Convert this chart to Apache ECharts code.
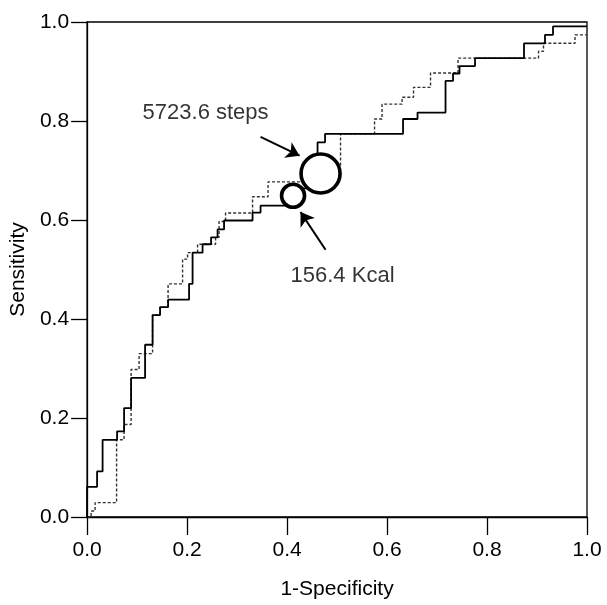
<!DOCTYPE html>
<html>
<head>
<meta charset="utf-8">
<script src="https://cdn.jsdelivr.net/npm/echarts@6/dist/echarts.min.js"></script>
<style>html,body{margin:0;padding:0;background:#fff}#c{width:607px;height:605px}</style>
</head>
<body>
<div id="c"></div>
<script>
// ROC curve A (solid) – step points (x = 1-Specificity, y = Sensitivity)
const fprA = [0, 0, 0.020, 0.031, 0.060, 0.074, 0.088, 0.116, 0.131, 0.146, 0.162, 0.204, 0.211, 0.231, 0.248, 0.261, 0.274, 0.331, 0.347, 0.412, 0.461, 0.476, 0.632, 0.661, 0.717, 0.732, 0.745, 0.776, 0.874, 0.916, 0.932, 1.0];
const tprA = [0, 0.061, 0.092, 0.156, 0.173, 0.220, 0.281, 0.348, 0.408, 0.424, 0.439, 0.471, 0.534, 0.551, 0.565, 0.581, 0.599, 0.615, 0.629, 0.664, 0.757, 0.774, 0.804, 0.817, 0.881, 0.896, 0.911, 0.927, 0.957, 0.974, 0.991, 0.991];
// ROC curve B (dotted)
const fprB = [0, 0.008, 0.016, 0.059, 0.074, 0.088, 0.104, 0.131, 0.146, 0.162, 0.191, 0.201, 0.221, 0.257, 0.264, 0.277, 0.331, 0.362, 0.460, 0.507, 0.575, 0.590, 0.630, 0.653, 0.687, 0.742, 0.903, 0.913, 0.976, 1.0];
const tprB = [0, 0.012, 0.029, 0.156, 0.187, 0.298, 0.330, 0.408, 0.424, 0.471, 0.521, 0.534, 0.551, 0.565, 0.597, 0.614, 0.647, 0.677, 0.710, 0.774, 0.804, 0.834, 0.848, 0.868, 0.897, 0.927, 0.941, 0.957, 0.974, 0.974];
// cut-off points
const cutLabels = ['5723.6 steps', '156.4 Kcal'];
const cutX = [0.467, 0.412];
const cutY = [0.694, 0.649];
const cutSize = [39, 23];
// annotation text anchors and arrows (data coordinates)
const noteX = [0.111, 0.407];
const noteY = [0.816, 0.488];
const arrowFromX = [0.347, 0.477];
const arrowFromY = [0.768, 0.540];
const arrowToX = [0.425, 0.427];
const arrowToY = [0.730, 0.616];
const ticks = [0, 0.2, 0.4, 0.6, 0.8, 1.0];

const FONT = '"Liberation Sans", Arial, sans-serif';
const chart = echarts.init(document.getElementById('c'), null, {renderer: 'canvas'});
const zip = (a, b) => a.map((v, i) => [v, b[i]]);

chart.setOption({
  animation: false,
  backgroundColor: '#fff',
  grid: {left: 86, top: 22, width: 501, height: 500, show: true, borderColor: '#000', borderWidth: 1.3, backgroundColor: 'transparent'},
  xAxis: {
    type: 'value', min: 0, max: 1, interval: 0.2,
    name: '1-Specificity', nameLocation: 'middle', nameGap: 62,
    nameTextStyle: {fontFamily: FONT, fontSize: 21, color: '#000'},
    axisLine: {show: true, lineStyle: {color: '#000', width: 1.3}},
    axisTick: {show: true, length: 18, lineStyle: {color: '#000', width: 1.3}},
    axisLabel: {margin: 23, fontFamily: FONT, fontSize: 21, color: '#000', formatter: v => v.toFixed(1)},
    splitLine: {show: false}
  },
  yAxis: {
    type: 'value', min: 0, max: 1, interval: 0.2,
    name: 'Sensitivity', nameLocation: 'middle', nameGap: 54, nameRotate: 90,
    nameTextStyle: {fontFamily: FONT, fontSize: 21, color: '#000'},
    axisLine: {show: true, lineStyle: {color: '#000', width: 1.3}},
    axisTick: {show: true, length: 16, lineStyle: {color: '#000', width: 1.3}},
    axisLabel: {margin: 18, fontFamily: FONT, fontSize: 21, color: '#000', formatter: v => v.toFixed(1)},
    splitLine: {show: false}
  },
  series: [
    {
      type: 'line', step: 'end', data: zip(fprB, tprB), symbol: 'none', z: 2,
      lineStyle: {color: '#333', width: 1.4, type: [3, 2]}
    },
    {
      type: 'line', step: 'end', data: zip(fprA, tprA), symbol: 'none', z: 3,
      lineStyle: {color: '#000', width: 1.8}
    },
    {
      type: 'scatter', z: 5,
      data: cutX.map((x, i) => ({value: [x, cutY[i]], symbolSize: cutSize[i]})),
      symbol: 'circle',
      itemStyle: {color: '#fff', borderColor: '#000', borderWidth: 3.6, opacity: 1}
    },
    {
      type: 'scatter', z: 6, symbolSize: 0,
      data: noteX.map((x, i) => ({value: [x, noteY[i]], name: cutLabels[i]})),
      label: {show: true, position: 'right', distance: 0, formatter: p => p.name, fontFamily: FONT, fontSize: 22, color: '#000'}
    },
    {
      type: 'lines', coordinateSystem: 'cartesian2d', z: 7,
      symbol: ['none', 'arrow'], symbolSize: 13,
      lineStyle: {color: '#000', width: 2, opacity: 1},
      data: arrowFromX.map((x, i) => ({coords: [[x, arrowFromY[i]], [arrowToX[i], arrowToY[i]]]}))
    }
  ]
});
</script>
</body>
</html>
